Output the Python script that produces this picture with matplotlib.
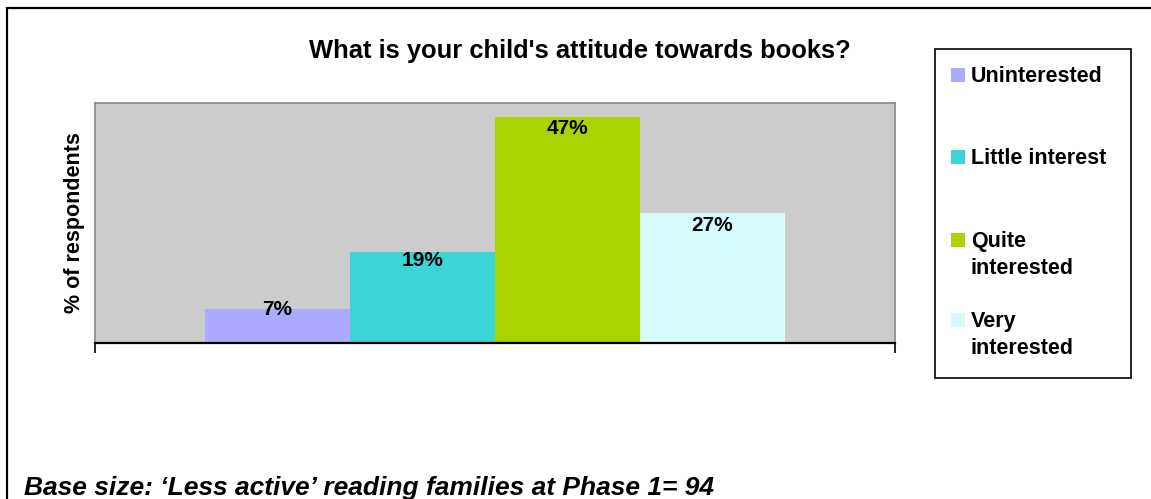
import matplotlib
matplotlib.use("Agg")
import matplotlib.pyplot as plt
from matplotlib.patches import Rectangle

plt.rcParams['font.family'] = ['Liberation Sans', 'DejaVu Sans']

categories = ["Uninterested", "Little interest", "Quite interested", "Very interested"]
legend_lines = [["Uninterested"], ["Little interest"], ["Quite", "interested"], ["Very", "interested"]]
values = [7, 19, 47, 27]
colors = ["#AAAAFF", "#3CD5D5", "#AAD400", "#D4FCFC"]
label_shift = [0.0, -1.9, -2.3, -2.5]   # nudge the % labels down into the bars

W, H = 1151, 499
fig = plt.figure(figsize=(W / 100, H / 100), dpi=100)

def fx(px):
    return px / W

def fy(py):
    return 1 - py / H

# outer frame, open at right and bottom
fig.add_artist(Rectangle((fx(7), -0.05), 1.2, fy(8) + 0.05,
                         transform=fig.transFigure, fill=False,
                         edgecolor="black", linewidth=1.6))

ax = fig.add_axes([fx(95), fy(343), 800 / W, 240 / H])
ax.set_facecolor("#CCCCCC")

x = list(range(len(values)))
bars = ax.bar(x, values, width=1.0, color=colors, edgecolor="none")
for b, v, dv in zip(bars, values, label_shift):
    ax.text(b.get_x() + b.get_width() / 2, v + dv, f"{v}%",
            ha="center", va="center", fontsize=15, fontweight="bold")

ax.set_xlim(-1.26, 4.26)
ax.set_ylim(0, 50)
ax.set_yticks([])
ax.set_xticks([-1.26, 4.26])
ax.set_xticklabels([])
ax.tick_params(axis="x", length=7, width=1.2, color="black", direction="out")
for s in ["left", "top", "right"]:
    ax.spines[s].set_color("#888888")
    ax.spines[s].set_linewidth(1.2)
ax.spines["bottom"].set_color("black")
ax.spines["bottom"].set_linewidth(1.6)

ax.set_ylabel("% of respondents", fontsize=15.5, fontweight="bold")
ax.yaxis.set_label_coords(-0.0125, 0.5)

fig.text(fx(580), fy(51), "What is your child's attitude towards books?",
         ha="center", va="center", fontsize=18.4, fontweight="bold")

# legend box
fig.add_artist(Rectangle((fx(935), fy(378)), 196 / W, 329 / H,
                         transform=fig.transFigure, fill=False,
                         edgecolor="black", linewidth=1.2))
legend_y = [[75], [157], [240, 267], [320, 346]]
for lines, col, ys in zip(legend_lines, colors, legend_y):
    fig.add_artist(Rectangle((fx(951), fy(ys[0] + 7)), 14 / W, 14 / H,
                             transform=fig.transFigure, facecolor=col,
                             edgecolor="none"))
    for txt, ly in zip(lines, ys):
        fig.text(fx(971), fy(ly + 7.5), txt, ha="left", va="baseline",
                 fontsize=15.5, fontweight="bold")

fig.text(fx(24), fy(495),
         "Base size: \u2018Less active\u2019 reading families at Phase 1= 94",
         ha="left", va="baseline", fontsize=19, fontweight="bold", style="italic")

fig.savefig("out.png", dpi=100)
